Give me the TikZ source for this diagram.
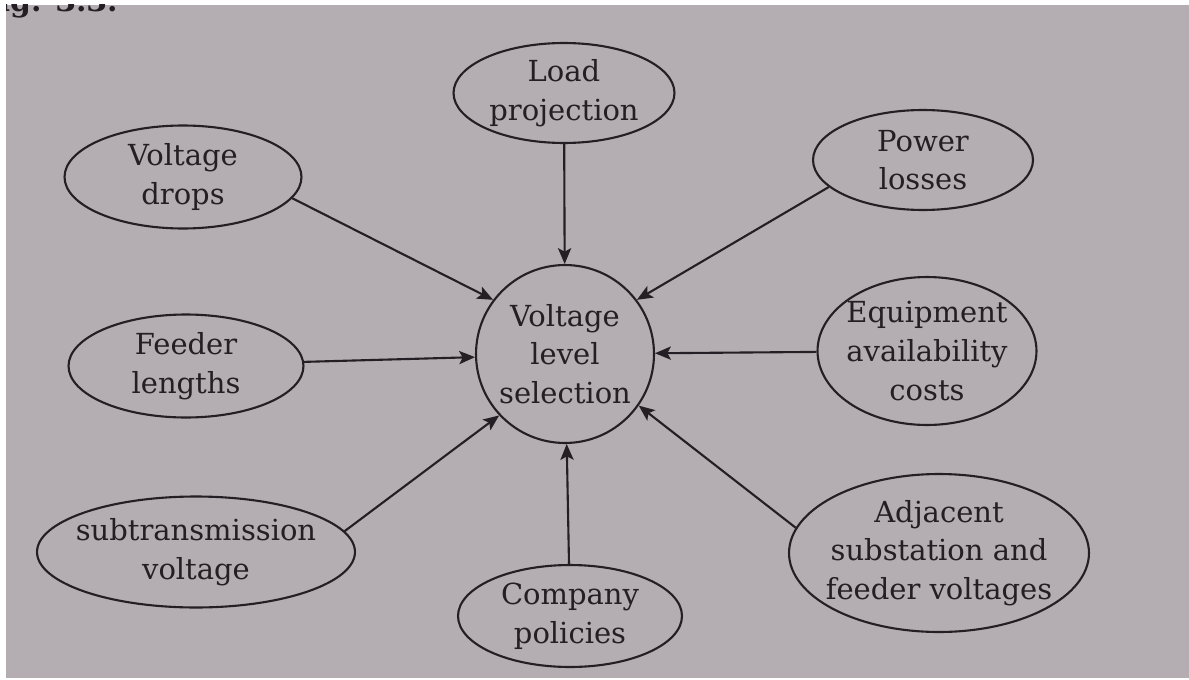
\documentclass[tikz,border=0pt]{standalone}
\usepackage{fontspec}
\setmainfont{DejaVu Serif}
\usetikzlibrary{shapes.geometric, arrows.meta}
\definecolor{paper}{RGB}{180,173,178}
\definecolor{ink}{RGB}{36,31,36}
\tikzset{factor/.style={ellipse,draw=ink,line width=1.2pt,inner sep=-7mm,
        align=center,text=ink},
    hub/.style={circle,draw=ink,line width=1.2pt,inner sep=-3mm,
        minimum size=3.56cm,align=center,text=ink},
    arr/.style={draw=ink,line width=1.2pt,
        -{Stealth[length=9pt,width=7.5pt,inset=2pt]}}}

\begin{document}
\begin{tikzpicture}[x=0.02cm,y=-0.02cm,font=\fontsize{16.5}{22}\selectfont]
    % Page and cut-off caption
    \useasboundingbox (0,0) rectangle (1189,679);
    \fill[paper] (6,5) rectangle (1189,678);
    \begin{scope}
        \clip (6,5) rectangle (300,60);
        \node[anchor=base east,inner sep=0pt,text=ink,
            font=\fontsize{17}{20}\selectfont\bfseries] (fig) at (118,12) {Fig. 3.3.};
    \end{scope}

    % Centre
    \node[hub] (sel) at (565,354) {Voltage\\level\\selection};

    % Factors round it
    \node[factor,minimum width=4.42cm,minimum height=2.0cm] (lp) at (564,93) {Load\\projection};
    \node[factor,minimum width=4.74cm,minimum height=2.06cm] (vd) at (183,177) {Voltage\\drops};
    \node[factor,minimum width=4.40cm,minimum height=2.0cm] (pl) at (923,160) {Power\\losses};
    \node[factor,minimum width=4.70cm,minimum height=2.06cm] (fl) at (186,366) {Feeder\\lengths};
    \node[factor,minimum width=4.38cm,minimum height=2.96cm] (eq) at (927,351) {Equipment\\availability\\costs};
    \node[factor,minimum width=6.36cm,minimum height=2.22cm] (st) at (196,552) {subtransmission\\voltage};
    \node[factor,minimum width=4.48cm,minimum height=2.04cm] (cp) at (570,616) {Company\\policies};
    \node[factor,minimum width=6.0cm,minimum height=3.16cm] (ad) at (939,553) {Adjacent\\substation and\\feeder voltages};

    % Arrows into the centre
    \draw[arr] (lp) -- (sel);
    \draw[arr] (vd.-11) -- (sel.143);
    \draw[arr] (pl.196) -- (sel.37);
    \draw[arr] (fl.2.5) -- (sel.182);
    \draw[arr] (eq) -- (sel);
    \draw[arr] (st.8) -- (sel.223);
    \draw[arr] (cp) -- (sel);
    \draw[arr] (ad.170) -- (sel.-35);
\end{tikzpicture}
\end{document}
